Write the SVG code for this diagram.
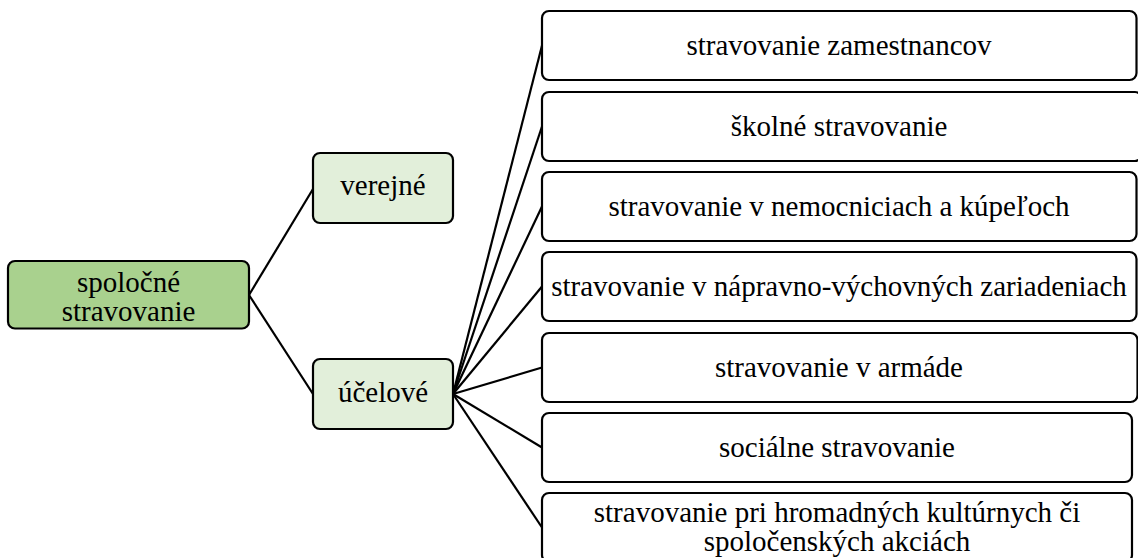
<svg xmlns="http://www.w3.org/2000/svg" width="1138" height="558" viewBox="0 0 1138 558">
<style>
.box{stroke:#000;stroke-width:2.2;}
.root{fill:#a9d18e;}
.mid{fill:#e2efda;}
.leaf{fill:#fff;}
text{font-family:'Liberation Serif','Times New Roman',Times,'DejaVu Serif',serif;font-size:29px;fill:#000;text-anchor:middle;}
.c{stroke:#000;stroke-width:2.2;fill:none;}
</style>
<rect width="1138" height="558" fill="#fff"/>
<g id="connectors">
<line class="c" x1="249" y1="295" x2="313" y2="189"/>
<line class="c" x1="249" y1="295" x2="313" y2="394"/>
<line class="c" x1="453" y1="394" x2="542" y2="45.5"/>
<line class="c" x1="453" y1="394" x2="542" y2="126.5"/>
<line class="c" x1="453" y1="394" x2="542" y2="206.5"/>
<line class="c" x1="453" y1="394" x2="542" y2="286.5"/>
<line class="c" x1="453" y1="394" x2="542" y2="367.5"/>
<line class="c" x1="453" y1="394" x2="542" y2="447.5"/>
<line class="c" x1="453" y1="394" x2="542" y2="527.5"/>
</g>
<g id="n-root">
<rect class="box root" x="8" y="261" width="241" height="67.5" rx="7"/>
<text x="128.5" y="292" font-family="Liberation Serif, serif">spoločné</text>
<text x="128.5" y="321" font-family="Liberation Serif, serif">stravovanie</text>
</g>
<g id="n-verejne">
<rect class="box mid" x="313" y="153" width="140" height="70" rx="7"/>
<text x="383" y="195">verejné</text>
</g>
<g id="n-ucelove">
<rect class="box mid" x="313" y="359" width="140" height="70" rx="7"/>
<text x="383" y="402">účelové</text>
</g>
<g id="n-leaf1">
<rect class="box leaf" x="542" y="11" width="594.5" height="69" rx="7"/>
<text x="839" y="55">stravovanie zamestnancov</text>
</g>
<g id="n-leaf2">
<rect class="box leaf" x="542" y="92" width="600" height="69" rx="7"/>
<text x="839" y="136">školné stravovanie</text>
</g>
<g id="n-leaf3">
<rect class="box leaf" x="542" y="172" width="594.5" height="69" rx="7"/>
<text x="839" y="216">stravovanie v nemocniciach a kúpeľoch</text>
</g>
<g id="n-leaf4">
<rect class="box leaf" x="542" y="252" width="594.5" height="69" rx="7"/>
<text x="839" y="296">stravovanie v nápravno-výchovných zariadeniach</text>
</g>
<g id="n-leaf5">
<rect class="box leaf" x="542" y="333" width="595.5" height="69" rx="7"/>
<text x="839" y="377">stravovanie v armáde</text>
</g>
<g id="n-leaf6">
<rect class="box leaf" x="542" y="413" width="590" height="69" rx="7"/>
<text x="837" y="457">sociálne stravovanie</text>
</g>
<g id="n-leaf7">
<rect class="box leaf" x="542" y="493" width="590" height="69" rx="7"/>
<text x="837" y="522">stravovanie pri hromadných kultúrnych či</text>
<text x="837" y="551">spoločenských akciách</text>
</g>
</svg>
